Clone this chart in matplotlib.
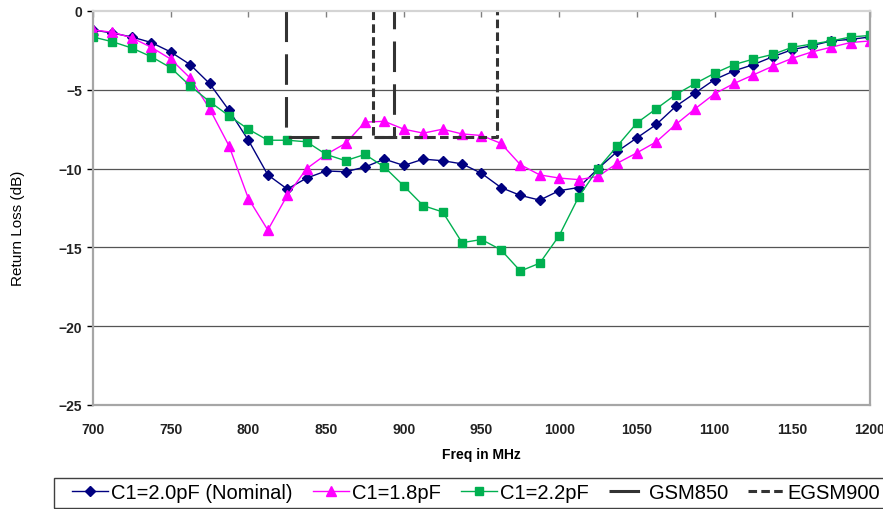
import matplotlib
matplotlib.use('Agg')
import matplotlib.pyplot as plt
from matplotlib.patches import Rectangle

freq = [700, 712.5, 725, 737.5, 750, 762.5, 775, 787.5, 800, 812.5,
        825, 837.5, 850, 862.5, 875, 887.5, 900, 912.5, 925, 937.5,
        950, 962.5, 975, 987.5, 1000, 1012.5, 1025, 1037.5, 1050, 1062.5,
        1075, 1087.5, 1100, 1112.5, 1125, 1137.5, 1150, 1162.5, 1175, 1187.5,
        1200]

c1_20 = [-1.2, -1.4, -1.65, -2.0, -2.6, -3.4, -4.6, -6.3, -8.2, -10.4,
         -11.3, -10.6, -10.15, -10.2, -9.9, -9.4, -9.8, -9.4, -9.5, -9.7,
         -10.3, -11.2, -11.7, -12.0, -11.4, -11.2, -10.0, -8.9, -8.05, -7.2,
         -6.05, -5.2, -4.35, -3.8, -3.4, -2.9, -2.45, -2.2, -1.9, -1.8,
         -1.65]
c1_18 = [-1.2, -1.35, -1.7, -2.3, -3.05, -4.25, -6.2, -8.55, -11.9, -13.9,
         -11.7, -10.0, -9.1, -8.4, -7.05, -7.0, -7.5, -7.75, -7.5, -7.8,
         -7.9, -8.4, -9.75, -10.4, -10.6, -10.7, -10.5, -9.65, -9.0, -8.3,
         -7.2, -6.2, -5.25, -4.6, -4.05, -3.5, -3.0, -2.6, -2.3, -2.0,
         -1.9]
c1_22 = [-1.65, -1.95, -2.35, -2.9, -3.6, -4.75, -5.75, -6.65, -7.5, -8.2,
         -8.2, -8.3, -9.1, -9.5, -9.1, -9.9, -11.1, -12.35, -12.75, -14.7,
         -14.5, -15.15, -16.5, -16.0, -14.25, -11.8, -10.0, -8.55, -7.1, -6.2,
         -5.3, -4.6, -3.95, -3.4, -3.05, -2.75, -2.3, -2.1, -1.9, -1.65,
         -1.55]

# band masks: (freq, return loss) corners
gsm850_f = [824, 824, 894, 894]
gsm850_rl = [0, -8, -8, 0]
egsm900_f = [880, 880, 960, 960]
egsm900_rl = [0, -8, -8, 0]

xticks = [700, 750, 800, 850, 900, 950, 1000, 1050, 1100, 1150, 1200]
yticks = [0, -5, -10, -15, -20, -25]

plt.rcParams['font.family'] = ['Liberation Sans', 'DejaVu Sans']

W, H = 883, 510
fig = plt.figure(figsize=(W/100., H/100.), dpi=100)
ax = fig.add_axes([93./W, 1-406./H, (870.-93.)/W, (406.-12.)/H])

l1, = ax.plot(freq, c1_20, color='#000080', marker='D', markersize=5,
              linewidth=1.0, label='C1=2.0pF (Nominal)')
l2, = ax.plot(freq, c1_18, color='#FF00FF', marker='^', markersize=6.5,
              linewidth=1.0, label='C1=1.8pF')
l3, = ax.plot(freq, c1_22, color='#00B050', marker='s', markersize=6,
              linewidth=1.0, label='C1=2.2pF')
l4, = ax.plot(gsm850_f, gsm850_rl, color='#333333', linewidth=2.2,
              linestyle=(0, (10, 4)), label='GSM850', clip_on=False)
l5, = ax.plot(egsm900_f, egsm900_rl, color='#333333', linewidth=2.2,
              linestyle=(0, (2.8, 1.4)), label='EGSM900', clip_on=False)

ax.set_xlim(700, 1200)
ax.set_ylim(-25, 0)
ax.set_xticks(xticks)
ax.set_yticks(yticks)
for y in yticks[1:-1]:
    ax.axhline(y, color='#555555', linewidth=0.9, zorder=0)

for s in ['left', 'right', 'bottom']:
    ax.spines[s].set_color('#a6a6a6')
    ax.spines[s].set_linewidth(1.6)
ax.spines['top'].set_color('#d4d4d4')
ax.spines['top'].set_linewidth(1.6)

ax.tick_params(axis='x', top=True, bottom=False, labeltop=False,
               labelbottom=True, direction='in', length=4, width=1,
               color='#808080', pad=12, labelsize=10)
ax.tick_params(axis='y', direction='out', length=4, width=1,
               color='black', pad=4, labelsize=10)
for t in ax.get_xticklabels() + ax.get_yticklabels():
    t.set_fontweight('bold')
    t.set_color('#222222')

ax.set_xlabel('Freq in MHz', fontsize=10, fontweight='bold', labelpad=8)
ax.set_ylabel('Return Loss (dB)', fontsize=11)
ax.yaxis.set_label_coords(-0.0875, 0.452)

# legend frame runs off the right edge of the picture
fig.patches.append(Rectangle((54./W, 1-509./H), 900./W, 30./H,
                             transform=fig.transFigure, fill=False,
                             edgecolor='#404040', linewidth=1.0))
fig.legend(handles=[l1, l2, l3, l4, l5], loc='center left',
           bbox_to_anchor=(72./W, 1-494./H), ncol=5, frameon=False,
           fontsize=14.5, handlelength=1.8, handletextpad=0.15,
           columnspacing=1.0, borderpad=0.0, borderaxespad=0.0)

fig.savefig('out.png', dpi=100)
